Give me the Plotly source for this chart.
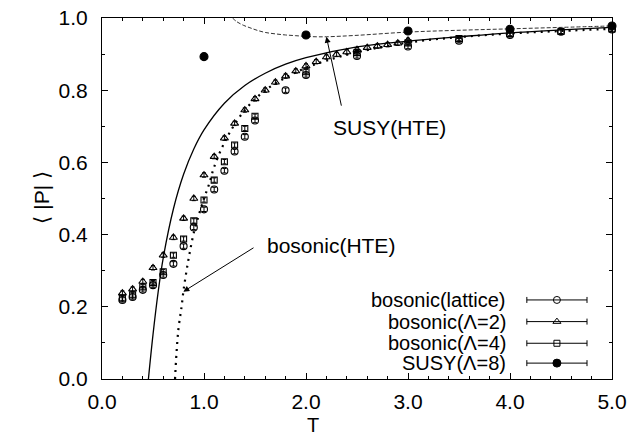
import plotly.graph_objects as go

# ---------------- data ----------------
T_lat = [0.2, 0.3, 0.4, 0.5, 0.6, 0.7, 0.8, 0.9, 1.0, 1.1, 1.2, 1.3, 1.4, 1.5,
         1.8, 2.0, 2.5, 3.0, 3.5, 4.0, 4.5, 5.0]
P_lat = [0.219, 0.227, 0.247, 0.260, 0.288, 0.319, 0.368, 0.420, 0.470, 0.525,
         0.577, 0.630, 0.671, 0.716, 0.800, 0.842, 0.895, 0.921, 0.937, 0.953,
         0.962, 0.968]

T_lam2 = [0.2, 0.3, 0.4, 0.5, 0.6, 0.7, 0.8, 0.9, 1.0, 1.1, 1.2, 1.3, 1.4, 1.5,
          1.6, 1.7, 1.8, 1.9, 2.0, 2.1, 2.2, 2.3, 2.4, 2.5, 2.6, 2.7, 2.8, 2.9, 3.0]
P_lam2 = [0.238, 0.249, 0.270, 0.308, 0.343, 0.392, 0.445, 0.500, 0.565, 0.616,
          0.667, 0.708, 0.745, 0.776, 0.800, 0.822, 0.839, 0.853, 0.867, 0.879,
          0.892, 0.899, 0.906, 0.912, 0.918, 0.922, 0.926, 0.930, 0.938]

T_lam4 = [0.2, 0.3, 0.4, 0.5, 0.6, 0.7, 0.8, 0.9, 1.0, 1.1, 1.2, 1.3, 1.4, 1.5,
          2.0, 2.5, 3.0, 3.5, 4.0, 4.5, 5.0]
P_lam4 = [0.224, 0.233, 0.255, 0.267, 0.297, 0.343, 0.388, 0.438, 0.496, 0.551,
          0.602, 0.648, 0.694, 0.728, 0.851, 0.904, 0.931, 0.943, 0.957, 0.963,
          0.970]

T_susy = [1.0, 2.0, 3.0, 4.0, 5.0]
P_susy = [0.893, 0.953, 0.964, 0.969, 0.978]

# solid curve
T_solid = [0.455, 0.5, 0.55, 0.6, 0.7, 0.8, 0.9, 1.0, 1.2, 1.4, 1.6, 1.8, 2.0,
           2.5, 3.0, 3.5, 4.0, 4.5, 5.0]
P_solid = [0.0, 0.123, 0.240, 0.335, 0.471, 0.567, 0.637, 0.690, 0.764, 0.813,
           0.847, 0.872, 0.890, 0.920, 0.936, 0.948, 0.959, 0.967, 0.974]

# bosonic(HTE) dotted curve
T_bhte = [0.716, 0.73, 0.75, 0.78, 0.80, 0.83, 0.86, 0.90, 0.95, 1.0, 1.05, 1.1,
          1.2, 1.3, 1.4, 1.5, 1.6, 1.8, 2.0, 2.2, 2.5, 3.0, 3.5, 4.0, 4.5, 5.0]
P_bhte = [0.0, 0.07, 0.14, 0.20, 0.247, 0.302, 0.350, 0.405, 0.455, 0.500, 0.540,
          0.588, 0.655, 0.705, 0.745, 0.775, 0.800, 0.835, 0.862, 0.882, 0.905,
          0.932, 0.947, 0.957, 0.964, 0.970]

# SUSY(HTE) dashed curve
T_shte = [1.28, 1.32, 1.385, 1.45, 1.52, 1.6, 1.7, 1.8, 1.9, 2.0, 2.1, 2.2,
          2.5, 3.0, 3.5, 4.0, 4.5, 5.0]
P_shte = [1.0, 0.99, 0.980, 0.973, 0.966, 0.960, 0.956, 0.953, 0.951, 0.949,
          0.948, 0.948, 0.952, 0.961, 0.966, 0.970, 0.974, 0.978]

leg_labels = ["bosonic(lattice)", "bosonic(Λ=2)", "bosonic(Λ=4)", "SUSY(Λ=8)"]

FONT = "Liberation Sans, Arial, Helvetica, sans-serif"

fig = go.Figure()

# curves
fig.add_trace(go.Scatter(x=T_solid, y=P_solid, mode="lines", line_shape="spline",
                         line=dict(color="black", width=1.3)))
fig.add_trace(go.Scatter(x=T_bhte, y=P_bhte, mode="lines", line_shape="spline",
                         line=dict(color="black", width=2.2, dash="2px,5px")))
fig.add_trace(go.Scatter(x=T_shte, y=P_shte, mode="lines", line_shape="spline",
                         line=dict(color="#333", width=1, dash="4px,2px")))

err = dict(type="constant", value=0.006, thickness=1, width=2, color="black")
sets = [
    (T_lat, P_lat, "circle-open", 7),
    (T_lam2, P_lam2, "triangle-up-open", 7),
    (T_lam4, P_lam4, "square-open", 6),
    (T_susy, P_susy, "circle", 8),
]
for tx, py, sym, sz in sets:
    fig.add_trace(go.Scatter(x=tx, y=py, mode="markers", cliponaxis=False,
                             marker=dict(symbol=sym, size=sz, color="black",
                                         line=dict(color="black", width=1.1)),
                             error_y=err))

# legend (text on left, errorbar-style sample on right), placed in paper-like overlay axes
row_y = [0.219, 0.159, 0.099, 0.044]
for (tx, py, sym, sz), lab, ry in zip(sets, leg_labels, row_y):
    fig.add_trace(go.Scatter(x=[0.892], y=[ry], xaxis="x2", yaxis="y2",
                             mode="markers", cliponaxis=False,
                             marker=dict(symbol=sym, size=sz, color="black",
                                         line=dict(color="black", width=1)),
                             error_x=dict(type="constant", value=0.059, thickness=1,
                                          width=3, color="black")))
    fig.add_annotation(x=0.796, y=ry, xref="paper", yref="paper", text=lab,
                       showarrow=False, xanchor="right", yanchor="middle",
                       font=dict(size=20, family=FONT, color="black"))

# labels with arrows
fig.add_annotation(x=2.245, y=0.371, text="bosonic(HTE)", showarrow=False,
                   font=dict(size=21, family=FONT, color="black"))
fig.add_annotation(x=0.797, y=0.242, ax=1.5, ay=0.366, axref="x", ayref="y",
                   text="", showarrow=True, arrowhead=2, arrowsize=1.2,
                   arrowwidth=1, arrowcolor="black")
fig.add_annotation(x=2.82, y=0.698, text="SUSY(HTE)", showarrow=False,
                   font=dict(size=21, family=FONT, color="black"))
fig.add_annotation(x=2.2, y=0.948, ax=2.35, ay=0.753, axref="x", ayref="y",
                   text="", showarrow=True, arrowhead=2, arrowsize=1.2,
                   arrowwidth=1, arrowcolor="black")

# axis titles
fig.add_annotation(x=0.414, y=-0.092, xref="paper", yref="paper", text="T",
                   showarrow=False, yanchor="top",
                   font=dict(size=20, family=FONT, color="black"))
fig.add_annotation(x=-0.145, y=0.504, xref="paper", yref="paper", text="⟨ |P| ⟩",
                   textangle=-90, showarrow=False,
                   font=dict(size=21, family=FONT, color="black"))

axis_common = dict(showline=True, linecolor="black", linewidth=1.2, mirror="ticks",
                   ticks="inside", ticklen=6, tickwidth=1, tickcolor="black",
                   showgrid=False, zeroline=False, automargin=False,
                   tickfont=dict(size=21, family=FONT, color="black"))
fig.update_layout(
    width=627, height=440,
    margin=dict(l=102, r=15, t=18, b=61, autoexpand=False),
    paper_bgcolor="white", plot_bgcolor="white",
    showlegend=False,
    xaxis=dict(range=[0, 5], dtick=1, tick0=0, tickformat=".1f",
               ticklabelstandoff=4,
               minor=dict(ticks="inside", ticklen=3, dtick=0.2, tick0=0,
                          tickcolor="black", showgrid=False),
               **axis_common),
    yaxis=dict(range=[0, 1], dtick=0.2, tick0=0, tickformat=".1f",
               ticklabelstandoff=9,
               minor=dict(ticks="inside", ticklen=3, dtick=0.1, tick0=0,
                          tickcolor="black", showgrid=False),
               **axis_common),
    xaxis2=dict(overlaying="x", range=[0, 1], visible=False, fixedrange=True),
    yaxis2=dict(overlaying="y", range=[0, 1], visible=False, fixedrange=True),
)

fig.write_html(
    "out.html",
    config={"displayModeBar": False},
    post_script="document.body.style.margin='0';document.body.style.overflow='hidden';",
)
